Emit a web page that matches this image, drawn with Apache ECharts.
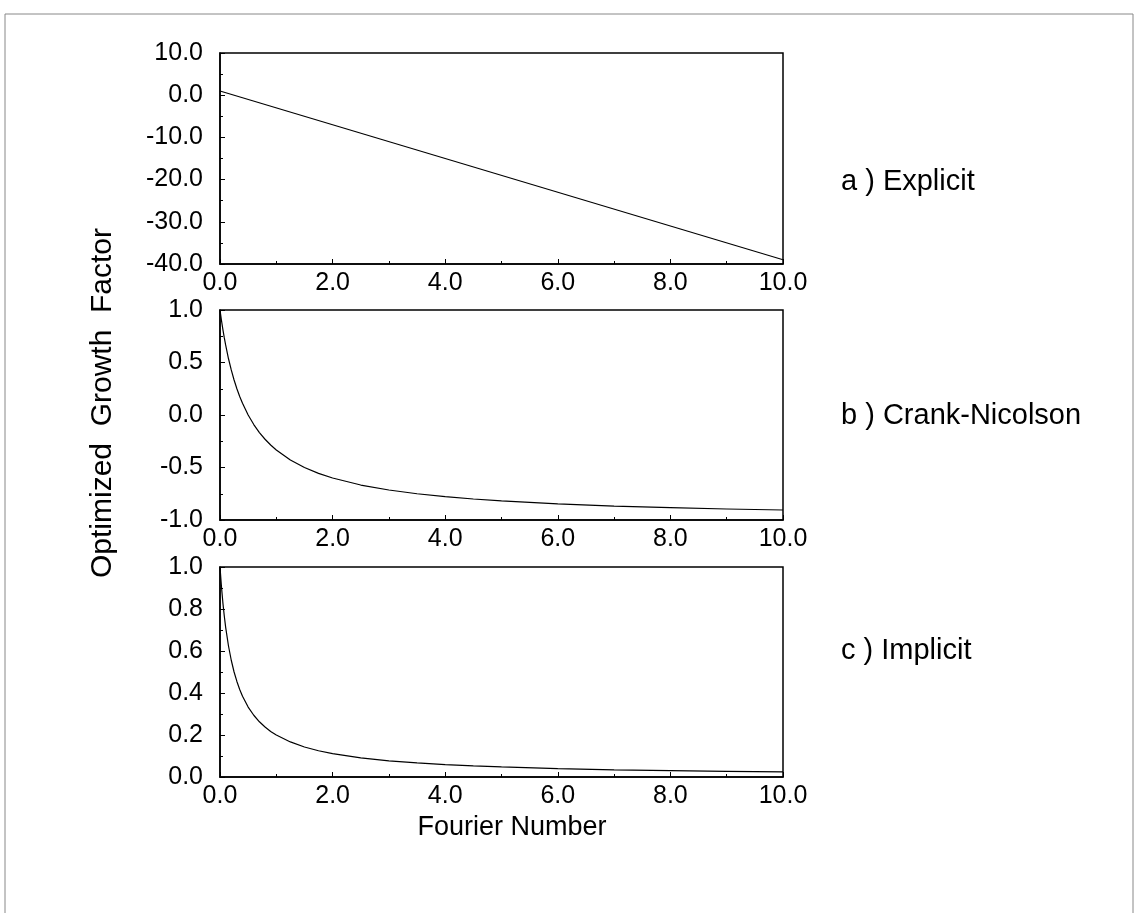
<!DOCTYPE html>
<html>
<head>
<meta charset="utf-8">
<script src="https://cdn.jsdelivr.net/npm/echarts@6/dist/echarts.min.js"></script>
<style>
  html, body { margin: 0; padding: 0; background: #fff; }
  #chart { width: 1138px; height: 913px; }
</style>
</head>
<body>
<div id="chart"></div>
<script>
// Fourier numbers where the curves were read
const fourier = [0, 0.025, 0.05, 0.075, 0.1, 0.15, 0.2, 0.25, 0.3, 0.35, 0.4, 0.5, 0.6, 0.7, 0.8, 0.9, 1.0,
  1.25, 1.5, 1.75, 2, 2.5, 3, 3.5, 4, 4.5, 5, 6, 7, 8, 9, 10];
// a) explicit: straight line
const explicitFo = [0, 10];
const explicitG = [1, -39];
// b) Crank-Nicolson
const crankG = [1, 0.905, 0.818, 0.739, 0.667, 0.538, 0.429, 0.333, 0.25, 0.176, 0.111, 0, -0.091, -0.167,
  -0.231, -0.286, -0.333, -0.429, -0.5, -0.556, -0.6, -0.667, -0.714, -0.75, -0.778, -0.8, -0.818,
  -0.846, -0.867, -0.882, -0.895, -0.905];
// c) implicit
const implicitG = [1, 0.909, 0.833, 0.769, 0.714, 0.625, 0.556, 0.5, 0.455, 0.417, 0.385, 0.333, 0.294,
  0.263, 0.238, 0.217, 0.2, 0.167, 0.143, 0.125, 0.111, 0.091, 0.077, 0.067, 0.059, 0.053, 0.048,
  0.04, 0.034, 0.03, 0.027, 0.024];

const panelLabels = ["a ) Explicit", "b ) Crank-Nicolson", "c ) Implicit"];
const yRanges = [
  { min: -40, max: 10, interval: 10 },
  { min: -1, max: 1, interval: 0.5 },
  { min: 0, max: 1, interval: 0.2 },
];

const font = "Liberation Sans, Arial, sans-serif";
const tops = [53, 310, 567];
const heights = [211, 210, 210];

const pairs = (xs, ys) => xs.map((x, i) => [x, ys[i]]);
const seriesData = [pairs(explicitFo, explicitG), pairs(fourier, crankG), pairs(fourier, implicitG)];

const grid = tops.map((t, i) => ({
  left: 220,
  right: 355,
  top: t,
  height: heights[i],
  show: true,
  borderColor: "#000",
  borderWidth: 1.5,
}));

const xAxis = tops.map((t, i) => ({
  type: "value",
  gridIndex: i,
  min: 0,
  max: 10,
  interval: 2,
  axisLine: { onZero: false, lineStyle: { color: "#000", width: 1.5 } },
  axisTick: { inside: true, length: 5, lineStyle: { color: "#000" } },
  minorTick: { show: true, splitNumber: 2, length: 3, lineStyle: { color: "#000" } },
  splitLine: { show: false },
  axisLabel: {
    margin: 7,
    fontFamily: font,
    fontSize: 25,
    color: "#000",
    formatter: (v) => v.toFixed(1),
  },
}));

const yAxis = yRanges.map((r, i) => ({
  type: "value",
  gridIndex: i,
  min: r.min,
  max: r.max,
  interval: r.interval,
  axisLine: { show: true, onZero: false, lineStyle: { color: "#000", width: 1.5 } },
  axisTick: { show: true, inside: true, length: 5, lineStyle: { color: "#000" } },
  minorTick: { show: true, splitNumber: 2, length: 3, lineStyle: { color: "#000" } },
  splitLine: { show: false },
  axisLabel: {
    margin: 17,
    fontFamily: font,
    fontSize: 25,
    color: "#000",
    formatter: (v) => v.toFixed(1),
  },
}));

const series = seriesData.map((d, i) => ({
  type: "line",
  xAxisIndex: i,
  yAxisIndex: i,
  data: d,
  showSymbol: false,
  smooth: false,
  lineStyle: { color: "#000", width: 1.2 },
  animation: false,
}));

const labelY = [182, 416, 651];

const option = {
  backgroundColor: "#fff",
  animation: false,
  grid,
  xAxis,
  yAxis,
  series,
  graphic: [
    {
      type: "rect",
      shape: { x: 5, y: 14, width: 1128, height: 930 },
      style: { fill: "none", stroke: "#888", lineWidth: 1 },
      silent: true,
    },
    {
      type: "text",
      x: 103,
      y: 403,
      rotation: Math.PI / 2,
      style: {
        text: "Optimized  Growth  Factor",
        fontFamily: font,
        fontSize: 30,
        fill: "#000",
        align: "center",
        verticalAlign: "middle",
      },
    },
    {
      type: "text",
      x: 512,
      y: 828,
      style: {
        text: "Fourier Number",
        fontFamily: font,
        fontSize: 27,
        fill: "#000",
        align: "center",
        verticalAlign: "middle",
      },
    },
    ...panelLabels.map((t, i) => ({
      type: "text",
      x: 841,
      y: labelY[i],
      style: {
        text: t,
        fontFamily: font,
        fontSize: 29,
        fill: "#000",
        align: "left",
        verticalAlign: "middle",
      },
    })),
  ],
};

const chart = echarts.init(document.getElementById("chart"));
chart.setOption(option);
</script>
</body>
</html>
